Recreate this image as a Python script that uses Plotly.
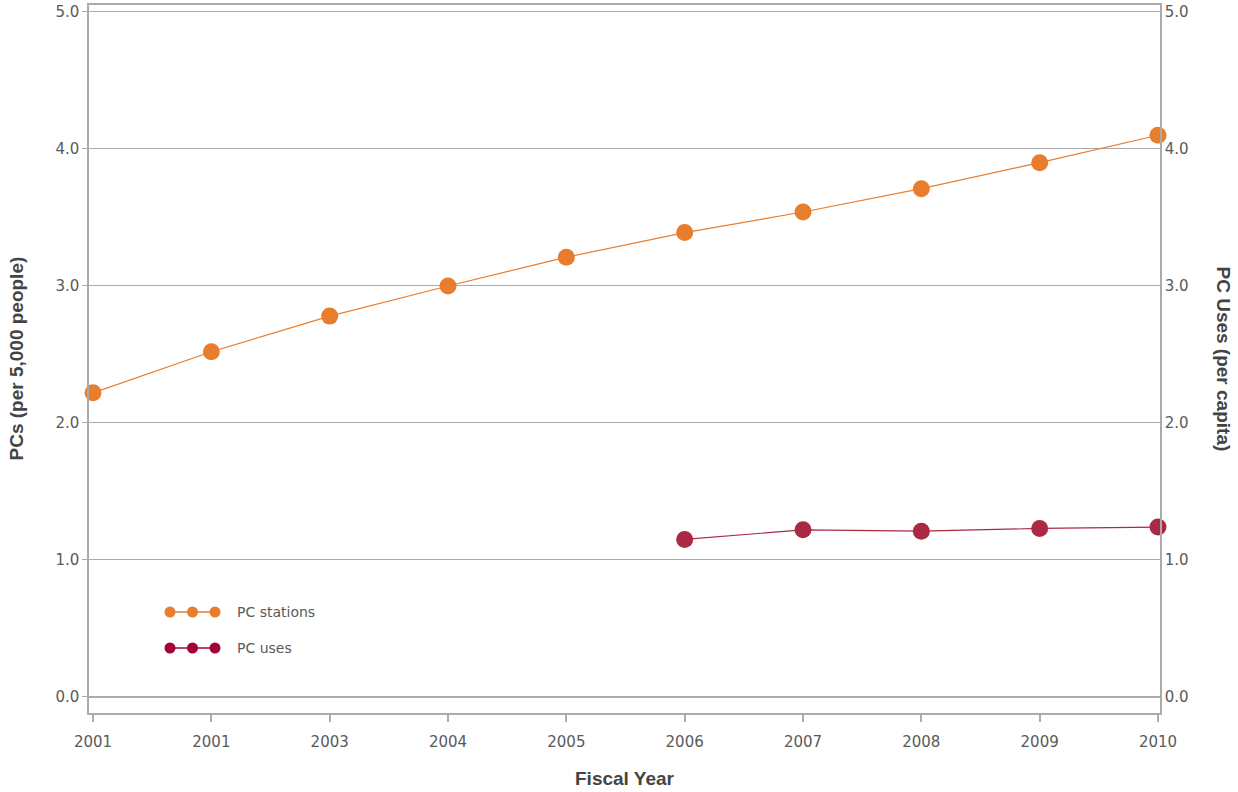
import plotly.graph_objects as go

tick_labels = ["2001", "2001", "2003", "2004", "2005", "2006", "2007", "2008", "2009", "2010"]
x_index = list(range(len(tick_labels)))

pc_stations = [2.22, 2.52, 2.78, 3.00, 3.21, 3.39, 3.54, 3.71, 3.90, 4.10]
pc_uses_x = [5, 6, 7, 8, 9]
pc_uses = [1.15, 1.22, 1.21, 1.23, 1.24]

ORANGE = "#E87D2E"
CRIMSON = "#AA2A44"
LEG_CRIMSON = "#A30238"
GRID = "#ABABAB"
TXT = "#5A5A5A"
FONT = "DejaVu Sans"
TFONT = "Liberation Sans"

fig = go.Figure()
fig.add_trace(go.Scatter(
    x=x_index, y=pc_stations, mode="lines+markers", name="PC stations",
    line=dict(color=ORANGE, width=1.2), marker=dict(color=ORANGE, size=17),
    cliponaxis=False, showlegend=False))
fig.add_trace(go.Scatter(
    x=pc_uses_x, y=pc_uses, mode="lines+markers", name="PC uses", yaxis="y2",
    line=dict(color=CRIMSON, width=1.2), marker=dict(color=CRIMSON, size=17),
    cliponaxis=False, showlegend=False))

yrange = [-0.117, 5.051]
fig.update_layout(
    width=1238, height=792,
    margin=dict(l=89, r=78, t=5, b=79),
    plot_bgcolor="white", paper_bgcolor="white",
    font=dict(family=FONT, color=TXT, size=15),
    xaxis=dict(
        range=[-0.034, 9.017], tickvals=x_index, ticktext=tick_labels,
        showgrid=False, zeroline=False, showline=True, linecolor=GRID, linewidth=1.5,
        mirror=True, ticks="outside", ticklen=7, tickcolor=GRID, tickwidth=1.5,
        automargin=False, ticklabelstandoff=7,
        tickfont=dict(size=15, color=TXT, family=FONT)),
    yaxis=dict(
        range=yrange, tickvals=[0, 1, 2, 3, 4, 5], tickformat=".1f",
        showgrid=True, gridcolor=GRID, gridwidth=1, zeroline=False,
        showline=True, linecolor=GRID, linewidth=1.5, automargin=False,
        ticks="outside", ticklen=5, tickcolor=GRID,
        tickfont=dict(size=15, color=TXT, family=FONT)),
    yaxis2=dict(
        range=yrange, tickvals=[0, 1, 2, 3, 4, 5], tickformat=".1f",
        overlaying="y", side="right", showgrid=False, zeroline=False,
        showline=True, linecolor=GRID, linewidth=1.5, ticks="", automargin=False,
        tickfont=dict(size=15, color=TXT, family=FONT)),
)

# gridline darker at 0
fig.add_shape(type="line", xref="paper", yref="y", x0=0, x1=1, y0=0, y1=0,
              line=dict(color=GRID, width=2), layer="below")

# axis titles
fig.add_annotation(text="<b>PCs (per 5,000 people)</b>", xref="paper", yref="paper",
                   x=0, y=0.5, xshift=-86, textangle=-90, showarrow=False,
                   font=dict(size=19, color="#444444", family=TFONT))
fig.add_annotation(text="<b>PC Uses (per capita)</b>", xref="paper", yref="paper",
                   x=1, y=0.5, xshift=76, textangle=90, showarrow=False,
                   font=dict(size=19, color="#444444", family=TFONT))
fig.add_annotation(text="<b>Fiscal Year</b>", xref="paper", yref="paper",
                   x=0.5, y=0, yshift=-78, showarrow=False,
                   font=dict(size=19, color="#444444", family=TFONT))

# custom legend (three connected dots)
W, H = 1238 - 89 - 78, 792 - 5 - 79
def px(xp):
    return (xp - 89) / W
def py(yp):
    return (713 - yp) / H

legend_items = [("PC stations", ORANGE, 612), ("PC uses", LEG_CRIMSON, 648)]
for label, col, ypix in legend_items:
    fig.add_shape(type="line", xref="paper", yref="paper",
                  x0=px(170), x1=px(215), y0=py(ypix), y1=py(ypix),
                  line=dict(color=col, width=1.5))
    for xc in (170, 192.5, 215):
        fig.add_shape(type="circle", xref="paper", yref="paper",
                      x0=px(xc - 5.5), x1=px(xc + 5.5), y0=py(ypix + 5.5), y1=py(ypix - 5.5),
                      fillcolor=col, line=dict(width=0))
    fig.add_annotation(text=label, xref="paper", yref="paper", x=px(235), y=py(ypix),
                       xanchor="left", yanchor="middle", showarrow=False,
                       font=dict(size=14, color=TXT, family=FONT))

fig.write_html("out.html", config={"displayModeBar": False},
               post_script="document.body.style.margin='0';document.body.style.padding='0';")
